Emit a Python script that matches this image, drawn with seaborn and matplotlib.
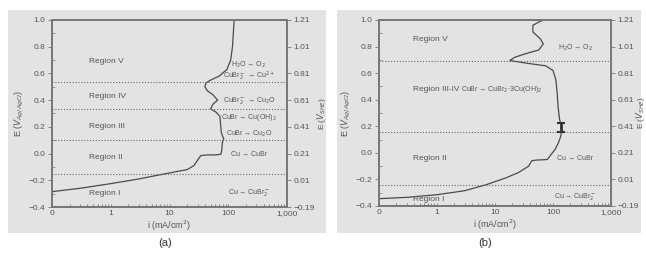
import matplotlib
matplotlib.use("Agg")
import matplotlib.pyplot as plt
from matplotlib.patches import Rectangle
import seaborn as sns
import pandas as pd

# ---------------- data ----------------
# panel (a): current density (mA/cm2) vs potential E (V Ag/AgCl)
a_i = [0.1, 0.3, 1, 3, 10, 20, 26, 30, 34, 45, 60, 75, 78, 79, 84, 80, 76, 74, 72, 62, 50,
       55, 66, 55, 44, 40, 42, 50, 70, 95, 110, 118, 122, 126]
a_E = [-0.285, -0.26, -0.225, -0.19, -0.145, -0.12, -0.09, -0.05, -0.015, -0.01, -0.01, -0.005,
       0.03, 0.08, 0.11, 0.13, 0.16, 0.22, 0.28, 0.31, 0.335,
       0.37, 0.40, 0.44, 0.47, 0.50, 0.53, 0.55, 0.58, 0.63, 0.70, 0.80, 0.90, 1.0]
a_bounds = [0.535, 0.335, 0.10, -0.155]
a_regions = ["Region V", "Region IV", "Region III", "Region II", "Region I"]
a_region_E = [0.69, 0.43, 0.20, -0.03, -0.30]
a_reactions = ["H$_2$O → O$_2$", "CuBr$_2^-$ → Cu$^{2+}$", "CuBr$_2^-$ → Cu$_2$O",
               "CuBr → Cu(OH)$_2$", "CuBr → Cu$_2$O", "Cu → CuBr", "Cu → CuBr$_2^-$"]
a_reaction_E = [0.665, 0.575, 0.40, 0.27, 0.15, -0.01, -0.29]

# panel (b)
b_i = [0.1, 0.3, 1, 3, 7, 15, 25, 38, 43, 50, 80, 90, 110, 125, 135, 140, 140, 130, 122,
       118, 112, 100, 75, 35, 18, 22, 33, 57, 68, 60, 45, 45, 60, 70]
b_E = [-0.345, -0.335, -0.315, -0.285, -0.24, -0.19, -0.15, -0.10, -0.06, -0.055, -0.05,
       -0.02, 0.03, 0.08, 0.12, 0.15, 0.20, 0.25, 0.35, 0.45, 0.55, 0.62, 0.655, 0.675,
       0.695, 0.72, 0.745, 0.775, 0.82, 0.86, 0.91, 0.96, 0.99, 1.0]
b_bounds = [0.69, 0.157, -0.24]
b_regions = ["Region V", "Region III-IV", "Region II", "Region I"]
b_region_E = [0.85, 0.48, -0.04, -0.35]
b_reactions = ["H$_2$O → O$_2$", "Cu → CuBr", "Cu → CuBr$_2^-$"]
b_reaction_E = [0.79, -0.04, -0.33]
b_mid_reaction = "CuBr → CuBr$_2$·3Cu(OH)$_2$"
b_err_i = [140]
b_err_E = [0.19]
b_err_half = [0.035]

x_ticks = [0.1, 1, 10, 100, 1000]
x_ticklabels = ["0", "1", "10", "100", "1,000"]
y_ticks = [-0.4, -0.2, 0.0, 0.2, 0.4, 0.6, 0.8, 1.0]
y_ticklabels = ["\u22120.4", "\u22120.2", "0.0", "0.2", "0.4", "0.6", "0.8", "1.0"]
y2_ticklabels = ["\u22120.19", "0.01", "0.21", "0.41", "0.61", "0.81", "1.01", "1.21"]

# ---------------- style ----------------
sns.set_style("white")
plt.rcParams['font.family'] = ['Liberation Sans', 'DejaVu Sans']
plt.rcParams['mathtext.fontset'] = 'dejavusans'

BG = "#e3e3e3"
TXT = "#555555"
LINE = "#4a4a4a"
SPINE = "#777777"

fig = plt.figure(figsize=(6.46, 2.60), dpi=100)
fig.patch.set_facecolor("white")

W, H = 646.0, 260.0


def fbox(x0, y0, x1, y1):
    return [x0 / W, 1 - y1 / H, (x1 - x0) / W, (y1 - y0) / H]


for (x0, y0, x1, y1) in [(8, 10, 326, 233), (337, 10, 641, 233)]:
    l, b, w, h = fbox(x0, y0, x1, y1)
    fig.patches.append(Rectangle((l, b), w, h, transform=fig.transFigure,
                                 facecolor=BG, edgecolor="none", zorder=-5))


def make_panel(rect, xs, ys, bounds, regions, region_E, reactions, reaction_E,
               region_x, react_x, rlabel_x):
    ax = fig.add_axes(fbox(*rect))
    ax.set_facecolor(BG)
    df = pd.DataFrame({"i": xs, "E": ys})
    sns.lineplot(data=df, x="i", y="E", sort=False, estimator=None, ax=ax,
                 color=LINE, lw=0.9)
    ax.set_xscale("log")
    ax.set_xlim(0.1, 1000)
    ax.set_ylim(-0.4, 1.0)
    for yb in bounds:
        ax.axhline(yb, color="#666666", lw=0.8, ls=(0, (1, 1.6)))
    for t, e in zip(regions, region_E):
        ax.text(region_x, e, t, fontsize=6, color=TXT, va="center", ha="left")
    for t, e in zip(reactions, reaction_E):
        ax.text(react_x, e, t, fontsize=5, color=TXT, va="center", ha="center")
    ax.set_xticks(x_ticks)
    ax.set_xticklabels(x_ticklabels)
    ax.set_yticks(y_ticks)
    ax.set_yticklabels(y_ticklabels)
    ax.set_yticks([-0.3, -0.1, 0.1, 0.3, 0.5, 0.7, 0.9], minor=True)
    ax.tick_params(axis="x", which="both", direction="in", labelsize=6, colors=SPINE,
                   labelcolor=TXT, length=2.5, width=0.6, pad=2, bottom=True)
    ax.tick_params(axis="y", which="major", direction="out", labelsize=6, colors=SPINE,
                   labelcolor=TXT, length=3, width=0.6, pad=2, left=True)
    ax.tick_params(axis="y", which="minor", direction="in", length=2, width=0.5,
                   colors=SPINE, left=True)
    ax.set_xlabel("i (mA/cm$^2$)", fontsize=6.5, color=TXT, labelpad=1)
    ax.set_ylabel(r"E ($V_{Ag/AgCl}$)", fontsize=6.5, color=TXT, labelpad=2)
    for s in ax.spines.values():
        s.set_color(SPINE)
        s.set_linewidth(1.4)
    ax2 = ax.twinx()
    ax2.set_ylim(-0.19, 1.21)
    ax2.set_yticks([v + 0.21 for v in y_ticks])
    ax2.set_yticklabels(y2_ticklabels)
    ax2.tick_params(axis="y", direction="out", labelsize=6, colors=SPINE,
                    labelcolor=TXT, length=3, width=0.6, pad=1.5, right=True)
    ax2.set_ylabel(r"E ($V_{SHE}$)", fontsize=6, color=TXT, labelpad=0)
    ax2.yaxis.set_label_coords(rlabel_x, 0.5)
    for s in ax2.spines.values():
        s.set_visible(False)
    return ax


axa = make_panel((52, 20, 287, 207), a_i, a_E, a_bounds, a_regions, a_region_E,
                 a_reactions, a_reaction_E, 0.42, 225, 1.12)
axb = make_panel((379, 20, 611, 206), b_i, b_E, b_bounds, b_regions, b_region_E,
                 b_reactions, b_reaction_E, 0.38, 240, 1.10)
axb.text(2.6, 0.48, b_mid_reaction, fontsize=5, color=TXT, va="center", ha="left")
axb.errorbar(b_err_i, b_err_E, yerr=b_err_half, fmt="none", ecolor="#333333",
             elinewidth=2.0, capsize=3, capthick=1.5)

fig.text(165 / W, 1 - 243 / H, "(a)", fontsize=8, color="#333333", ha="center", va="center")
fig.text(485 / W, 1 - 243 / H, "(b)", fontsize=8, color="#333333", ha="center", va="center")

fig.savefig("out.png", dpi=100)
